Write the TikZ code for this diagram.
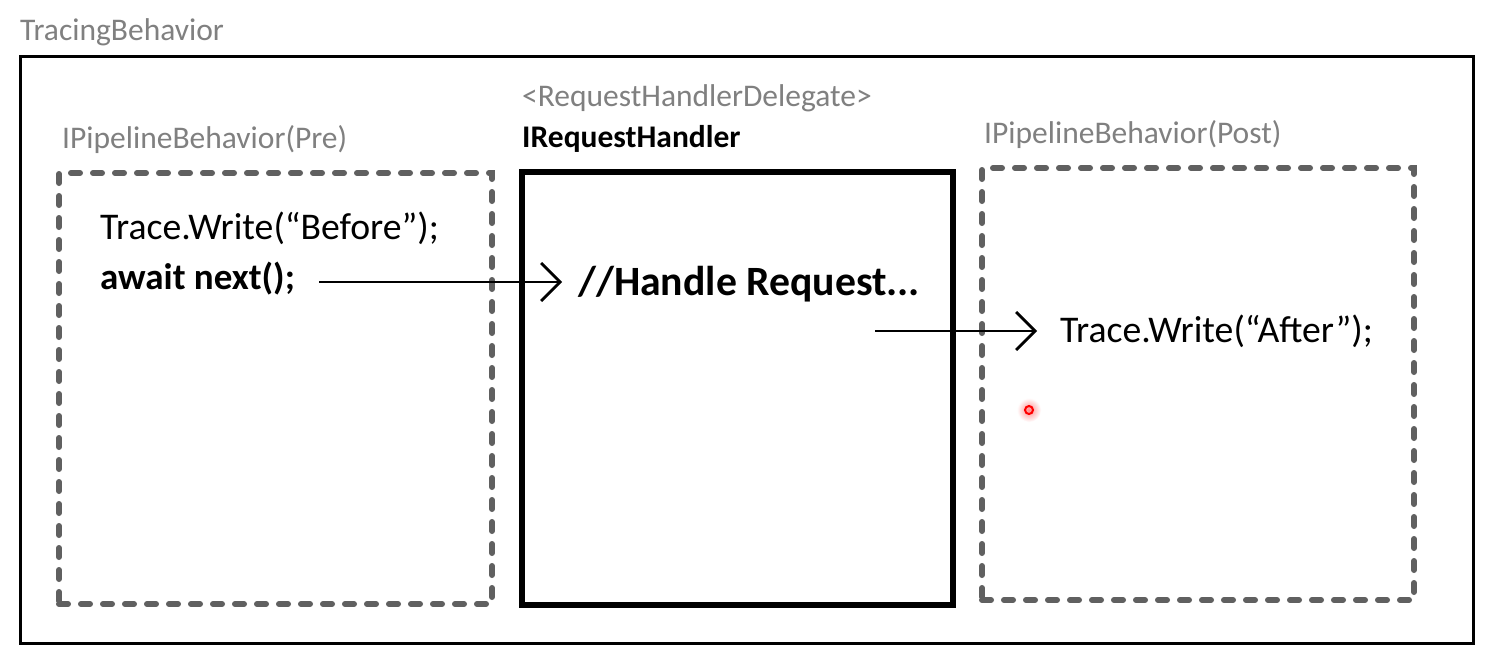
\documentclass[tikz,border=0pt]{standalone}
\usepackage{fontspec}
\setmainfont{Carlito}
\usetikzlibrary{arrows.meta,calc}
\definecolor{labelgray}{HTML}{808080}
\definecolor{dashgray}{HTML}{606060}
\begin{document}
\begin{tikzpicture}[x=1pt,y=-1pt,
  lbl/.style={inner sep=0pt, anchor=base west, text=labelgray, font=\fontsize{31.5}{36}\selectfont},
  code/.style={inner sep=0pt, anchor=base west, text=black, font=\fontsize{37.7}{44}\selectfont},
  dashbox/.style={draw=dashgray, line width=6pt, dash pattern=on 9pt off 13pt, line cap=round, inner sep=0pt},
  handbox/.style={draw=black, line width=6.5pt, inner sep=0pt},
  outerbox/.style={draw=black, line width=3pt, inner sep=0pt},
  arr/.style={line width=2.8pt, -{Straight Barb[length=19pt,width=38pt]}}
]
\useasboundingbox (0,0) rectangle (1497,659);
\fill[white] (0,0) rectangle (1497,659);

% boxes
\node[outerbox, minimum width=1453pt, minimum height=587pt] (outer) at (746.5,349.5) {};
\node[dashbox, minimum width=433pt, minimum height=431pt] (pre) at (275.5,388.5) {};
\node[handbox, minimum width=431pt, minimum height=433pt] (hand) at (737.5,388.5) {};
\node[dashbox, minimum width=432pt, minimum height=432pt] (post) at (1198,384) {};

% labels
\node[lbl] (tracing) at (20,40) {TracingBehavior};
\node[lbl] (prelbl) at (62,148) {IPipelineBehavior(Pre)};
\node[lbl] (deleg) at (522,106) {<RequestHandlerDelegate>};
\node[lbl, text=black, font=\fontsize{31.5}{36}\selectfont\bfseries] (ireq) at (522,147) {IRequestHandler};
\node[lbl] (postlbl) at (984,143) {IPipelineBehavior(Post)};

% code
\node[code] (before) at (100,239) {Trace.Write(“Before”);};
\node[code, font=\fontsize{37}{44}\selectfont\bfseries] (await) at (100,289) {await next();};
\node[code, font=\fontsize{41.7}{48}\selectfont\bfseries] (handle) at (578,295) {//Handle Request...};
\node[code] (after) at (1060,342) {Trace.Write(“After”);};

% connectors
\draw[arr] ([shift={(24pt,7pt)}]await.base east) coordinate (a1) -- (a1 -| handle.west) [shorten >=16pt];
\coordinate (a2) at (875,331);
\draw[arr, shorten >=23pt] (a2) -- (a2 -| after.west);

% pointer
\shade[inner color=red!45, outer color=white] (1029,410) circle (12pt);
\draw[red, line width=2pt] (1029,410) circle (4pt);
\end{tikzpicture}
\end{document}
